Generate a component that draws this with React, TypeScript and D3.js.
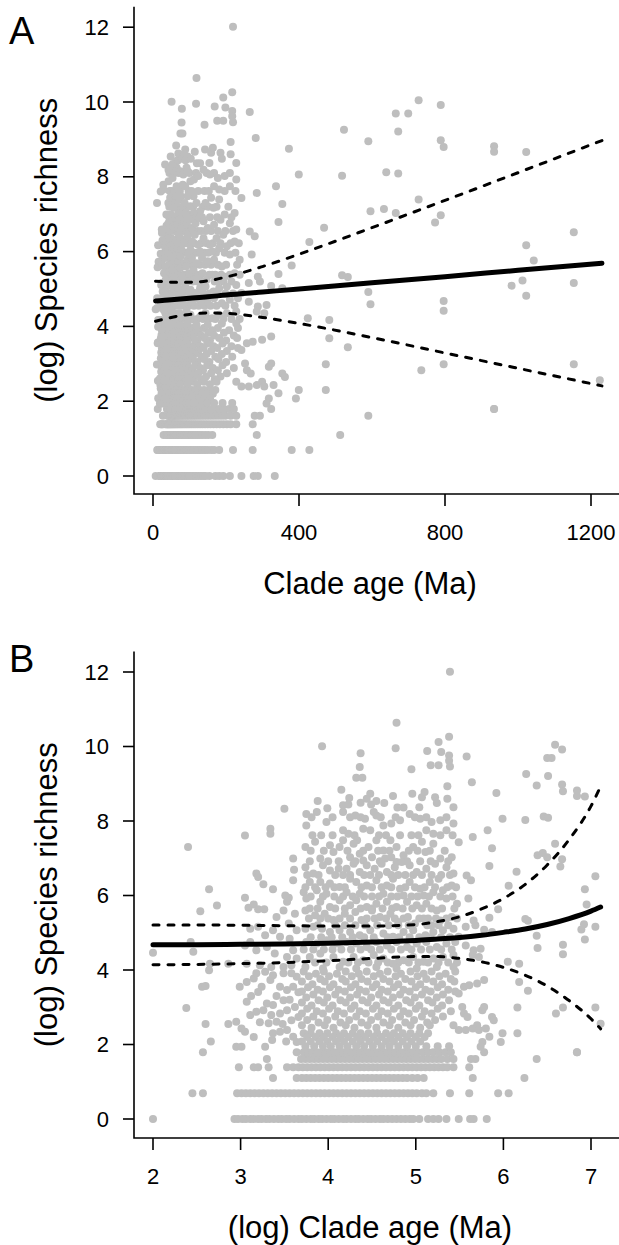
import React from 'react';
import * as d3 from 'd3';

// ---------- tick labels ----------
const Y_TICKS = [0, 2, 4, 6, 8, 10, 12];
const AGE_TICKS = [0, 400, 800, 1200];
const LOG_AGE_TICKS = [2, 3, 4, 5, 6, 7];

// ---------- data: (log) clade age, (log) species richness ----------
// discrete richness rows (ln of 1..6 species)
const ROW_LEVELS = [0, 0.693, 1.099, 1.386, 1.609, 1.792];
const ROW_0 = [2.00, 2.93, 2.97, 3.02, 3.06, 3.11, 3.15, 3.20, 3.24, 3.29, 3.33, 3.38, 3.43, 3.47, 3.52, 3.56, 3.61, 3.66, 3.70, 3.75, 3.80, 3.84, 3.89, 3.93, 3.98, 4.03, 4.07, 4.12, 4.17, 4.21, 4.26, 4.31, 4.35, 4.40, 4.45, 4.49, 4.54, 4.59, 4.63, 4.68, 4.73, 4.78, 4.83, 4.88, 4.93, 4.97, 5.04, 5.14, 5.20, 5.26, 5.35, 5.49, 5.62, 5.66, 5.81];
const ROW_1 = [2.45, 2.57, 2.96, 3.01, 3.06, 3.11, 3.16, 3.21, 3.26, 3.31, 3.36, 3.41, 3.46, 3.51, 3.56, 3.61, 3.66, 3.71, 3.76, 3.81, 3.86, 3.91, 3.96, 4.01, 4.06, 4.11, 4.16, 4.21, 4.26, 4.31, 4.36, 4.41, 4.46, 4.51, 4.56, 4.61, 4.66, 4.71, 4.76, 4.81, 4.86, 4.91, 4.96, 5.01, 5.07, 5.12, 5.20, 5.39, 5.61, 5.94, 6.06];
const ROW_2 = [3.37, 3.64, 3.70, 3.75, 3.80, 3.85, 3.90, 3.95, 4.00, 4.05, 4.10, 4.15, 4.20, 4.25, 4.30, 4.35, 4.40, 4.45, 4.50, 4.55, 4.60, 4.65, 4.70, 4.75, 4.80, 4.85, 4.90, 4.96, 5.02, 5.09, 5.65, 6.24];
const ROW_3 = [2.98, 3.15, 3.20, 3.32, 3.53, 3.60, 3.66, 3.71, 3.76, 3.81, 3.86, 3.91, 3.96, 4.01, 4.06, 4.11, 4.16, 4.21, 4.26, 4.31, 4.36, 4.41, 4.46, 4.51, 4.56, 4.61, 4.66, 4.71, 4.76, 4.81, 4.86, 4.91, 4.96, 5.01, 5.06, 5.11, 5.16, 5.21, 5.26, 5.31, 5.36, 5.43, 5.61];
const ROW_4 = [3.30, 3.69, 3.74, 3.79, 3.84, 3.89, 3.94, 3.99, 4.04, 4.09, 4.14, 4.19, 4.24, 4.29, 4.34, 4.39, 4.44, 4.49, 4.54, 4.59, 4.64, 4.69, 4.74, 4.79, 4.84, 4.89, 4.94, 4.99, 5.04, 5.09, 5.14, 5.19, 5.24, 5.29, 5.36, 5.43, 5.63, 5.68, 6.38];
const ROW_5 = [2.57, 3.64, 3.72, 3.77, 3.82, 3.87, 3.92, 3.97, 4.02, 4.07, 4.12, 4.17, 4.22, 4.27, 4.32, 4.37, 4.42, 4.47, 4.52, 4.57, 4.62, 4.67, 4.72, 4.77, 4.82, 4.87, 4.92, 4.97, 5.02, 5.08, 5.14, 5.20, 5.27, 5.34, 5.40, 5.78, 6.84];
const ROWS = [ROW_0, ROW_1, ROW_2, ROW_3, ROW_4, ROW_5];

// dense lower cloud: [richness, log ages]
const CLOUD_ROWS: [number, number[]][] = [
  [3.96, [3.72, 3.95, 4.20, 4.44, 4.68, 4.94, 5.18, 5.45]],
  [3.90, [3.86, 4.10, 4.35, 4.59, 4.83, 5.09, 5.34]],
  [3.83, [3.78, 4.01, 4.27, 4.52, 4.77, 5.02, 5.27]],
  [3.76, [3.91, 4.16, 4.38, 4.63, 4.88, 5.12, 5.40]],
  [3.69, [3.70, 3.96, 4.20, 4.45, 4.70, 4.95, 5.20, 5.44]],
  [3.62, [3.82, 4.06, 4.31, 4.55, 4.80, 5.05, 5.30]],
  [3.54, [3.77, 4.02, 4.26, 4.51, 4.75, 5.00, 5.25]],
  [3.47, [3.88, 4.12, 4.36, 4.61, 4.86, 5.11, 5.37]],
  [3.42, [3.70, 3.94, 4.19, 4.43, 4.68, 4.93, 5.17, 5.45]],
  [3.34, [3.83, 4.08, 4.33, 4.58, 4.82, 5.07, 5.31]],
  [3.26, [3.75, 3.99, 4.25, 4.49, 4.74, 4.99, 5.24]],
  [3.19, [3.89, 4.14, 4.39, 4.63, 4.89, 5.14, 5.38]],
  [3.13, [3.70, 3.95, 4.20, 4.45, 4.69, 4.94, 5.19]],
  [3.05, [3.81, 4.05, 4.30, 4.55, 4.80, 5.04, 5.30]],
  [2.96, [3.76, 4.01, 4.26, 4.51, 4.75, 5.00, 5.25]],
  [2.89, [3.87, 4.11, 4.36, 4.61, 4.86, 5.10, 5.40]],
  [2.83, [3.70, 3.94, 4.18, 4.43, 4.68, 4.92, 5.18]],
  [2.75, [3.83, 4.08, 4.32, 4.57, 4.82, 5.07, 5.31]],
  [2.66, [3.76, 3.99, 4.24, 4.49, 4.73, 4.98, 5.22]],
  [2.59, [3.89, 4.14, 4.38, 4.63, 4.88, 5.13]],
  [2.52, [3.70, 3.96, 4.20, 4.45, 4.70, 4.94, 5.16, 5.43]],
  [2.45, [3.81, 4.06, 4.30, 4.55, 4.80, 5.05]],
  [2.30, [3.72, 3.80, 3.90, 3.99, 4.09, 4.18, 4.28, 4.37, 4.46, 4.56, 4.66, 4.75, 4.85, 4.94, 5.04, 5.14]],
  [2.20, [3.76, 3.86, 3.95, 4.05, 4.14, 4.23, 4.33, 4.42, 4.52, 4.61, 4.71, 4.80, 4.90, 5.00, 5.10]],
  [2.08, [3.70, 3.80, 3.90, 3.99, 4.09, 4.18, 4.28, 4.37, 4.47, 4.56, 4.66, 4.75, 4.85, 4.95, 5.05]],
  [1.95, [3.74, 3.84, 3.94, 4.03, 4.13, 4.22, 4.32, 4.41, 4.51, 4.61, 4.70, 4.80, 4.90, 5.00, 5.12, 5.25, 5.38]],
];

// young clades (log age < 3.7): [log age, richness]
const PTS_YOUNG: [number, number][] = [
  [2.64, 3.99], [2.56, 3.55], [2.60, 3.57], [2.38, 2.98], [2.60, 2.55], [2.66, 2.08], [2.86, 2.55], [2.95, 2.61],
  [3.01, 2.43], [3.05, 2.34], [2.95, 1.94], [3.01, 1.94], [2.99, 3.55], [3.07, 3.68], [3.15, 3.77], [3.20, 3.41],
  [3.07, 3.15], [3.11, 2.79], [3.18, 2.88], [3.26, 2.92], [3.30, 3.10], [3.35, 2.79], [3.37, 3.06], [3.41, 2.61],
  [3.45, 2.83], [3.49, 3.19], [3.53, 2.92], [3.58, 2.65], [3.62, 3.01], [3.66, 2.74], [3.32, 2.57], [3.37, 2.30],
  [3.45, 2.34], [3.53, 2.39], [3.60, 2.21], [3.64, 2.07], [3.28, 1.94], [3.36, 2.12], [3.45, 3.55], [3.53, 3.46],
  [3.60, 3.55], [3.64, 3.82], [3.37, 3.86], [3.49, 3.91], [3.58, 3.91], [3.18, 3.91], [3.34, 3.73],
  [3.12, 3.30], [3.24, 3.55], [3.41, 3.30], [3.56, 3.20], [3.22, 2.60], [3.48, 2.55], [3.15, 2.20], [3.52, 2.08],
  [3.66, 3.40], [3.28, 3.95],
  [3.50, 8.33], [2.40, 7.30], [3.05, 7.61], [3.34, 7.79], [3.34, 7.66], [3.60, 6.99], [3.61, 6.69], [3.60, 6.41],
  [3.18, 6.59], [3.20, 6.50], [3.26, 6.30], [3.37, 6.17], [2.64, 6.17], [2.73, 5.73], [2.54, 5.58], [3.05, 5.94],
  [3.09, 5.67], [3.15, 5.76], [3.20, 5.63], [3.27, 5.63], [3.51, 6.00], [3.55, 5.94], [3.53, 5.83], [3.41, 5.42],
  [3.37, 5.07], [3.28, 4.93], [3.20, 5.16], [3.11, 5.11], [2.43, 4.75], [2.46, 4.49], [2.00, 4.46], [2.65, 4.17],
  [2.86, 4.17], [3.05, 4.66], [3.18, 4.53], [3.30, 4.62], [3.39, 4.44], [3.53, 4.35], [3.60, 4.53], [3.64, 4.31],
  [3.07, 4.17], [3.22, 4.13], [3.35, 4.08], [3.49, 4.08], [3.58, 4.13], [3.45, 4.89], [3.56, 4.84], [3.64, 5.07],
  [3.55, 5.25], [3.62, 5.51], [3.49, 5.60], [3.11, 4.75],
];

// core cloud (log age 3.7-5.5, richness 4-8.3)
const PTS_CORE: [number, number][] = [
  [3.75, 8.19], [3.87, 8.24], [3.98, 7.97], [3.75, 7.88], [4.17, 8.24], [4.31, 8.15], [4.42, 8.06], [4.52, 8.24],
  [4.55, 8.15], [4.63, 7.88], [4.72, 7.93], [4.82, 8.02], [4.93, 8.19], [5.05, 8.06], [5.18, 7.97], [5.28, 8.02],
  [5.43, 7.93], [4.17, 7.75], [4.23, 7.66], [4.40, 7.79], [4.48, 7.75], [4.33, 7.48], [5.12, 7.75], [5.20, 7.66],
  [5.35, 7.75], [3.74, 7.30], [3.85, 7.44], [4.02, 7.35], [4.13, 7.30], [4.06, 7.17], [4.17, 7.48], [4.29, 7.39],
  [4.36, 7.12], [4.46, 7.30], [4.50, 7.03], [4.63, 7.21], [4.71, 7.48], [4.78, 7.30], [4.86, 7.08], [4.97, 7.30],
  [5.07, 7.44], [5.11, 7.17], [5.20, 7.39], [5.28, 6.99], [5.41, 7.03], [4.65, 6.99], [4.72, 7.03], [4.78, 6.90],
  [4.55, 7.48], [4.40, 6.94], [4.25, 7.03], [3.91, 6.99], [3.74, 6.76], [3.83, 6.59], [3.94, 6.81], [4.02, 6.67],
  [4.12, 6.72], [4.21, 6.72], [4.29, 6.85], [4.36, 6.63], [4.44, 6.81], [4.53, 6.72], [4.61, 6.85], [4.67, 6.63],
  [4.76, 6.76], [4.84, 6.90], [4.93, 6.81], [5.01, 6.63], [5.12, 6.72], [5.22, 6.85], [5.35, 6.76], [5.43, 6.59],
  [3.79, 6.36], [3.91, 6.36], [4.02, 6.32], [4.13, 6.23], [4.25, 6.45], [4.32, 6.36], [4.44, 6.27], [4.55, 6.41],
  [4.67, 6.27], [4.74, 6.45], [4.82, 6.18], [4.93, 6.36], [5.05, 6.18], [5.16, 6.36], [5.26, 6.45], [5.31, 6.14],
  [5.41, 6.27], [3.72, 6.09], [3.87, 6.14], [3.98, 6.05], [4.21, 6.09], [4.36, 6.05], [4.63, 6.05], [4.86, 6.00],
  [5.09, 6.00], [5.20, 6.09], [3.75, 5.92], [3.91, 5.83], [4.02, 5.69], [4.13, 5.87], [4.25, 5.74], [4.32, 5.87],
  [4.44, 5.69], [4.55, 5.78], [4.67, 5.83], [4.78, 5.69], [4.90, 5.83], [5.01, 5.74], [5.12, 5.78], [5.24, 5.60],
  [5.35, 5.92], [5.47, 5.78], [3.74, 5.60], [3.85, 5.47], [3.96, 5.51], [4.06, 5.34], [4.19, 5.51], [4.31, 5.56],
  [4.38, 5.34], [4.50, 5.60], [4.59, 5.42], [4.71, 5.51], [4.80, 5.29], [4.91, 5.42], [4.99, 5.25], [5.09, 5.38],
  [5.18, 5.20], [5.28, 5.33], [5.41, 5.42], [3.74, 5.11], [3.83, 5.16], [3.93, 5.11], [4.02, 5.02], [4.13, 5.07],
  [4.25, 5.02], [4.36, 4.93], [4.48, 5.07], [4.63, 4.98], [4.74, 4.89], [4.86, 5.02], [4.97, 5.07], [5.11, 4.93],
  [5.20, 5.02], [5.31, 5.07], [5.43, 5.11], [3.75, 4.75], [3.87, 4.71], [3.98, 4.80], [4.10, 4.71], [4.21, 4.75],
  [4.32, 4.71], [4.44, 4.62], [4.55, 4.75], [4.67, 4.66], [4.78, 4.75], [4.90, 4.62], [5.01, 4.71], [5.12, 4.75],
  [5.24, 4.62], [5.35, 4.71], [5.45, 4.75], [3.79, 4.35], [3.91, 4.44], [4.06, 4.35], [4.17, 4.22], [4.29, 4.35],
  [4.40, 4.26], [4.52, 4.40], [4.63, 4.31], [4.74, 4.17], [4.86, 4.26], [4.97, 4.35], [5.09, 4.22], [5.20, 4.31],
  [5.31, 4.35], [5.43, 4.40], [3.74, 4.08], [3.94, 4.04], [4.13, 4.08], [4.32, 4.04], [4.55, 4.08], [4.78, 4.04],
  [5.01, 4.04], [5.24, 4.08], [5.43, 4.08],
];

// core cloud, points lying between the ones above: [richness, log ages]
const CORE_FILL: [number, number[]][] = [
  [8.10, [3.81, 4.05, 4.25, 4.37, 4.60, 4.77, 4.99, 5.12, 5.35]],
  [7.62, [3.82, 3.92, 4.05, 4.30, 4.58, 4.66, 4.82, 4.95, 5.03, 5.28, 5.42]],
  [7.20, [3.80, 3.95, 4.22, 4.40, 4.57, 4.70, 4.92, 5.02, 5.16, 5.33]],
  [6.92, [3.79, 4.00, 4.12, 4.31, 4.59, 4.90, 5.05, 5.17, 5.37]],
  [6.55, [3.76, 3.89, 4.08, 4.17, 4.25, 4.41, 4.48, 4.58, 4.72, 4.80, 4.88, 4.97, 5.07, 5.18, 5.29, 5.39]],
  [6.22, [3.74, 3.85, 3.97, 4.07, 4.19, 4.38, 4.50, 4.61, 4.72, 4.88, 4.99, 5.10, 5.22, 5.36, 5.46]],
  [5.97, [3.80, 3.94, 4.07, 4.17, 4.28, 4.41, 4.50, 4.58, 4.72, 4.79, 4.95, 5.02, 5.15, 5.28, 5.42]],
  [5.65, [3.79, 3.88, 4.08, 4.19, 4.37, 4.50, 4.62, 4.73, 4.85, 4.96, 5.07, 5.18, 5.30, 5.44]],
  [5.38, [3.78, 3.91, 4.00, 4.13, 4.25, 4.44, 4.53, 4.66, 4.76, 4.86, 5.04, 5.14, 5.23, 5.35, 5.47]],
  [5.20, [3.88, 4.08, 4.19, 4.31, 4.42, 4.56, 4.69, 4.80, 4.92, 5.13, 5.26, 5.37]],
  [4.88, [3.80, 3.92, 4.04, 4.16, 4.28, 4.41, 4.52, 4.68, 4.81, 4.93, 5.04, 5.17, 5.29, 5.39]],
  [4.55, [3.72, 3.83, 3.95, 4.05, 4.15, 4.26, 4.37, 4.49, 4.59, 4.72, 4.83, 4.95, 5.06, 5.16, 5.29, 5.41]],
  [4.20, [3.85, 3.98, 4.23, 4.34, 4.46, 4.57, 4.68, 4.80, 4.92, 5.03, 5.14, 5.26, 5.37, 5.47]],
];

// richest clades (richness > 8.3)
const PTS_HIGH: [number, number][] = [
  [5.39, 12.01], [4.78, 10.64], [3.93, 10.01], [4.37, 9.82], [4.77, 9.95], [5.38, 10.26], [5.26, 10.12], [5.13, 9.88],
  [5.29, 9.85], [5.38, 9.76], [5.17, 9.50], [5.26, 9.50], [5.38, 9.62], [5.39, 9.46], [4.36, 9.45], [4.95, 9.39],
  [4.32, 9.16], [4.39, 9.16], [4.15, 8.84], [3.88, 8.54], [4.24, 8.62], [3.99, 8.34], [4.17, 8.42], [4.23, 8.44],
  [4.37, 8.49], [4.48, 8.73], [4.44, 8.60], [4.49, 8.44], [4.55, 8.54], [4.64, 8.48], [4.74, 8.67], [4.79, 8.36],
  [4.86, 8.36], [4.96, 8.73], [5.04, 8.37], [5.07, 8.64], [5.10, 8.78], [5.22, 8.64], [5.24, 8.48], [5.36, 8.93],
  [5.36, 8.60], [5.43, 8.37],
  [6.59, 10.05], [6.67, 9.92], [6.50, 9.69], [6.55, 9.69], [5.58, 9.73], [5.64, 9.04], [5.92, 8.75], [6.26, 9.26],
  [6.51, 9.21], [6.38, 8.95], [6.67, 8.98], [6.68, 8.80], [6.84, 8.82], [6.84, 8.67], [6.93, 8.66],
];

// older clades (log age > 5.45)
const PTS_OLD: [number, number][] = [
  [5.99, 8.06], [6.25, 8.03], [6.46, 8.12], [6.51, 8.09], [5.82, 7.75], [5.65, 7.57], [5.49, 7.43], [5.87, 7.27],
  [6.59, 7.39], [6.39, 7.08], [6.45, 7.14], [6.50, 7.03], [6.67, 6.97], [6.65, 6.78], [5.84, 6.79], [6.15, 6.64],
  [5.58, 6.54], [5.63, 6.41], [6.06, 6.26], [7.05, 6.52], [6.93, 6.17], [5.60, 5.92], [5.94, 5.63], [6.95, 5.76],
  [5.84, 5.40], [6.28, 5.32], [6.25, 5.37], [5.66, 5.33], [5.57, 5.16], [5.68, 5.20], [6.92, 5.23], [6.89, 5.09],
  [7.05, 5.16], [5.78, 5.08], [5.87, 5.02], [6.38, 4.92], [5.49, 4.89], [5.57, 4.66], [5.66, 4.53], [5.74, 4.57],
  [5.72, 4.35], [6.39, 4.59], [6.68, 4.68], [6.68, 4.42], [6.93, 4.82], [6.05, 4.22], [6.18, 4.17], [5.65, 4.40],
  [5.49, 3.37], [5.53, 3.01], [5.55, 2.83], [5.59, 2.74], [5.49, 2.39], [5.57, 2.39], [5.65, 2.43], [5.70, 2.52],
  [5.72, 2.39], [5.80, 2.43], [5.87, 2.74], [5.89, 2.65], [5.76, 2.92], [5.78, 3.01], [5.84, 2.21], [5.76, 2.07],
  [5.74, 1.94], [5.55, 3.55], [5.61, 3.59], [5.70, 3.64], [5.78, 3.73], [5.99, 2.30], [6.16, 2.30], [5.97, 2.07],
  [6.16, 2.99], [6.18, 3.68], [6.28, 3.44], [6.60, 2.83], [6.68, 2.99], [7.05, 2.99], [7.11, 2.56], [6.84, 1.79],
];

// fitted model and its confidence band (age in Ma)
const FIT_AGE = [7, 25, 50, 100, 150, 200, 300, 400, 600, 800, 1000, 1230];
const FIT_A = [4.68, 4.69, 4.71, 4.75, 4.79, 4.84, 4.92, 5.00, 5.17, 5.33, 5.50, 5.69];
const LOW_A = [4.14, 4.18, 4.24, 4.32, 4.36, 4.35, 4.24, 4.08, 3.70, 3.29, 2.88, 2.41];
const HIGH_A = [5.21, 5.20, 5.18, 5.18, 5.22, 5.32, 5.60, 5.93, 6.64, 7.37, 8.11, 8.97];

// same model (log age)
const FIT_LOGAGE = [2, 2.5, 3, 3.5, 4, 4.5, 5, 5.25, 5.5, 5.75, 6, 6.25, 6.5, 6.75, 7, 7.11];
const FIT_B = [4.68, 4.68, 4.69, 4.70, 4.72, 4.75, 4.79, 4.83, 4.87, 4.93, 5.01, 5.10, 5.22, 5.38, 5.58, 5.69];
const LOW_B = [4.14, 4.15, 4.17, 4.20, 4.25, 4.31, 4.36, 4.36, 4.31, 4.22, 4.07, 3.86, 3.57, 3.18, 2.69, 2.42];
const HIGH_B = [5.21, 5.21, 5.20, 5.19, 5.18, 5.18, 5.22, 5.30, 5.43, 5.64, 5.92, 6.30, 6.82, 7.50, 8.40, 8.93];

// ---------- assembled points ----------
const POINTS: [number, number][] = [
  ...ROWS.flatMap((xs, i) => xs.map((x) => [x, ROW_LEVELS[i]] as [number, number])),
  ...CLOUD_ROWS.flatMap(([y, xs]) => xs.map((x) => [x, y] as [number, number])),
  ...CORE_FILL.flatMap(([y, xs]) => xs.map((x) => [x, y] as [number, number])),
  ...PTS_YOUNG,
  ...PTS_CORE,
  ...PTS_HIGH,
  ...PTS_OLD,
];

const FONT = '"Liberation Sans", Arial, Helvetica, sans-serif';
const GREY = '#BEBEBE';

type PanelProps = {
  label: string;
  xTitle: string;
  xScale: d3.ScaleLinear<number, number>;
  yScale: d3.ScaleLinear<number, number>;
  xTicks: number[];
  xValue: (logAge: number) => number;
  fitX: number[];
  fit: number[];
  low: number[];
  high: number[];
  axisY: number;
  plotTop: number;
  labelY: number;
};

const PLOT_LEFT = 134;
const PLOT_RIGHT = 619;

function Panel(p: PanelProps) {
  const line = (ys: number[]) =>
    d3
      .line<number>()
      .x((_, i) => p.xScale(p.fitX[i]))
      .y((d) => p.yScale(d))
      .curve(d3.curveMonotoneX)(ys) as string;
  const midY = (p.plotTop + p.axisY) / 2;
  const midX = 370;
  return (
    <g>
      <text x={9} y={p.labelY} fontSize={38} fontFamily={FONT} fill="#000">
        {p.label}
      </text>
      {POINTS.map(([lx, y], i) => (
        <circle key={i} cx={p.xScale(p.xValue(lx))} cy={p.yScale(y)} r={4} fill={GREY} />
      ))}
      <path d={line(p.fit)} fill="none" stroke="#000" strokeWidth={5} strokeLinecap="round" />
      <path d={line(p.low)} fill="none" stroke="#000" strokeWidth={3} strokeDasharray="6 9" strokeLinecap="round" />
      <path d={line(p.high)} fill="none" stroke="#000" strokeWidth={3} strokeDasharray="6 9" strokeLinecap="round" />
      {/* L-shaped frame */}
      <path
        d={`M${PLOT_LEFT},${p.plotTop}V${p.axisY}H${PLOT_RIGHT}`}
        fill="none"
        stroke="#000"
        strokeWidth={1.6}
      />
      {Y_TICKS.map((t) => (
        <g key={'y' + t}>
          <line x1={PLOT_LEFT} x2={PLOT_LEFT - 11} y1={p.yScale(t)} y2={p.yScale(t)} stroke="#000" strokeWidth={1.6} />
          <text
            x={109}
            y={p.yScale(t)}
            textAnchor="end"
            dominantBaseline="central"
            fontSize={22}
            fontFamily={FONT}
            fill="#000"
          >
            {t}
          </text>
        </g>
      ))}
      {p.xTicks.map((t) => (
        <g key={'x' + t}>
          <line x1={p.xScale(t)} x2={p.xScale(t)} y1={p.axisY} y2={p.axisY + 12} stroke="#000" strokeWidth={1.6} />
          <text
            x={p.xScale(t)}
            y={p.axisY + 38}
            textAnchor="middle"
            dominantBaseline="central"
            fontSize={22}
            fontFamily={FONT}
            fill="#000"
          >
            {t}
          </text>
        </g>
      ))}
      <text
        x={midX}
        y={p.axisY + 89}
        textAnchor="middle"
        dominantBaseline="central"
        fontSize={31}
        fontFamily={FONT}
        fill="#000"
      >
        {p.xTitle}
      </text>
      <text
        transform={`translate(46,${midY}) rotate(-90)`}
        textAnchor="middle"
        dominantBaseline="central"
        fontSize={31}
        fontFamily={FONT}
        fill="#000"
      >
        (log) Species richness
      </text>
    </g>
  );
}

export default function App() {
  const xA = d3.scaleLinear().domain([0, 1200]).range([153, 591]);
  const yA = d3.scaleLinear().domain([0, 12]).range([476, 27.2]);
  const xB = d3.scaleLinear().domain([2, 7]).range([153, 591]);
  const yB = d3.scaleLinear().domain([0, 12]).range([1119, 672]);
  return (
    <svg
      width={619}
      height={1245}
      viewBox="0 0 619 1245"
      style={{ position: 'absolute', left: 0, top: 0, background: '#fff' }}
    >
      <rect width={619} height={1245} fill="#fff" />
      <Panel
        label="A"
        xTitle="Clade age (Ma)"
        xScale={xA}
        yScale={yA}
        xTicks={AGE_TICKS}
        xValue={(l) => Math.exp(l)}
        fitX={FIT_AGE}
        fit={FIT_A}
        low={LOW_A}
        high={HIGH_A}
        axisY={494}
        plotTop={yA(12.55)}
        labelY={44}
      />
      <Panel
        label="B"
        xTitle="(log) Clade age (Ma)"
        xScale={xB}
        yScale={yB}
        xTicks={LOG_AGE_TICKS}
        xValue={(l) => l}
        fitX={FIT_LOGAGE}
        fit={FIT_B}
        low={LOW_B}
        high={HIGH_B}
        axisY={1138}
        plotTop={yB(12.55)}
        labelY={672}
      />
    </svg>
  );
}
